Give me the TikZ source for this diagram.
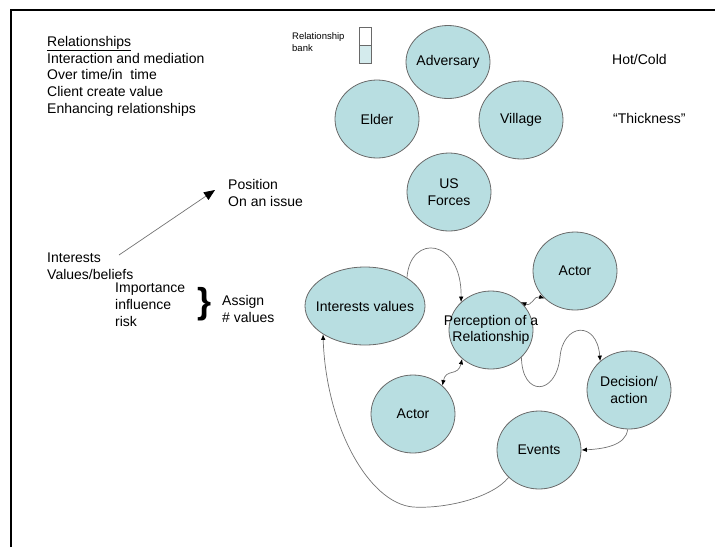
\documentclass[tikz,border=0pt]{standalone}
\usepackage{fontspec}
\setmainfont{Liberation Sans}
\usetikzlibrary{shapes.geometric,arrows.meta,calc}
\definecolor{bubblefill}{RGB}{184,222,225}
\definecolor{bubbleline}{RGB}{105,105,105}
\definecolor{linkgray}{RGB}{115,115,115}
\begin{document}
\begin{tikzpicture}[x=1pt, y=-1pt,
            bubble/.style={ellipse, draw=bubbleline, fill=bubblefill, line width=0.8pt, inner sep=0pt, minimum width=84pt, minimum height=78pt},
            every label/.style={font=\fontsize{14}{16.7}\selectfont, align=center, inner sep=0pt},
            txt/.style={font=\fontsize{14}{16.7}\selectfont, align=left, inner sep=0pt, anchor=north west},
            small/.style={font=\fontsize{9.5}{12.8}\selectfont, align=left, inner sep=0pt, anchor=north west},
            link/.style={draw=linkgray, line width=0.7pt, -{Latex[length=5.5pt,width=4.5pt,black]}},
            twoway/.style={link, {Latex[length=5.5pt,width=4.5pt,black]}-{Latex[length=5.5pt,width=4.5pt,black]}},
        ]
            \useasboundingbox (0,0) rectangle (715,547);
            \draw[line width=2pt] (10.5,547) -- (10.5,9.5) -- (715,9.5);

            % text on the left
            \node[txt](relnode) at (47,36) {\underline{Relationships}\\Interaction and mediation\\Over time/in\ \ time\\Client create value\\Enhancing relationships};
            \node[txt](intnode) at (47,253) {Interests\\Values/beliefs};
            \node[txt](impnode) at (115,283) {Importance\\influence\\risk};
            \node[inner sep=0pt, font=\fontsize{36}{36}\selectfont\bfseries](bracenode) at (205,304) {\}};
            \node[txt](assignnode) at (222,295) {Assign\\\# values};
            \node[txt](posnode) at (228,179) {Position\\On an issue};
            \draw[draw=linkgray, line width=0.7pt, -{Triangle[length=11pt,width=9pt,black]}]
                ($(intnode.north west)+(72,2)$) -- ($(posnode.north west)+(-13,11)$);

            % relationship bank
            \node[small](banknode) at (292,32) {Relationship\\bank};
            \draw[draw=bubbleline, fill=white] (359,27) rectangle (371,45);
            \draw[draw=bubbleline, fill=bubblefill!60] (359,45) rectangle (371,63);
            \node[txt](hotnode) at (612,54) {Hot/Cold};
            \node[txt](thicknode) at (613,113) {``Thickness''};

            % four parties
            \node[bubble, minimum height=73pt, label=center:Adversary](advnode) at (448,62) {};
            \node[bubble, label=center:Elder](eldernode) at (377,119) {};
            \node[bubble, label=center:Village](villagenode) at (521,120) {};
            \node[bubble, label={center:US\\Forces}](usnode) at (449,192) {};

            % perception cycle
            \node[bubble, minimum width=120pt](ivnode) at (365,306) {};
            \node[bubble, label={center:{Perception of a\\Relationship}}](prnode) at (491,330) {};
            \node[bubble, label=center:Actor](actortop) at (575,271) {};
            \node[bubble, label=center:Actor](actorbot) at (413,414) {};
            \node[bubble, label={center:Decision/\\action}](decnode) at (629,390) {};
            \node[bubble, label=center:Events](evnode) at (539,450) {};
            \node[font=\fontsize{14}{16.7}\selectfont, inner sep=0pt](ivtext) at (ivnode) {Interests values};

            \draw[link] (ivnode.34) .. controls (410,233) and (462,238) .. (prnode.137);
            \draw[twoway] (prnode.43) .. controls (532,307) and (534,295) .. (actortop.222);
            \draw[twoway] (prnode.225) .. controls (458,377) and (446,368) .. (actorbot.44);
            \draw[link] (prnode.-42) .. controls (522,397) and (556,396) .. (560,357)
                .. controls (563,323) and (597,320) .. (decnode.135);
            \draw[link] (decnode.-92) .. controls (626,446) and (602,449) .. (evnode.east);
            \draw[link] (evnode.222) .. controls (492,498) and (445,509) .. (413,507)
                .. controls (368,503) and (326,425) .. (ivnode.214);
        \end{tikzpicture}
\end{document}
